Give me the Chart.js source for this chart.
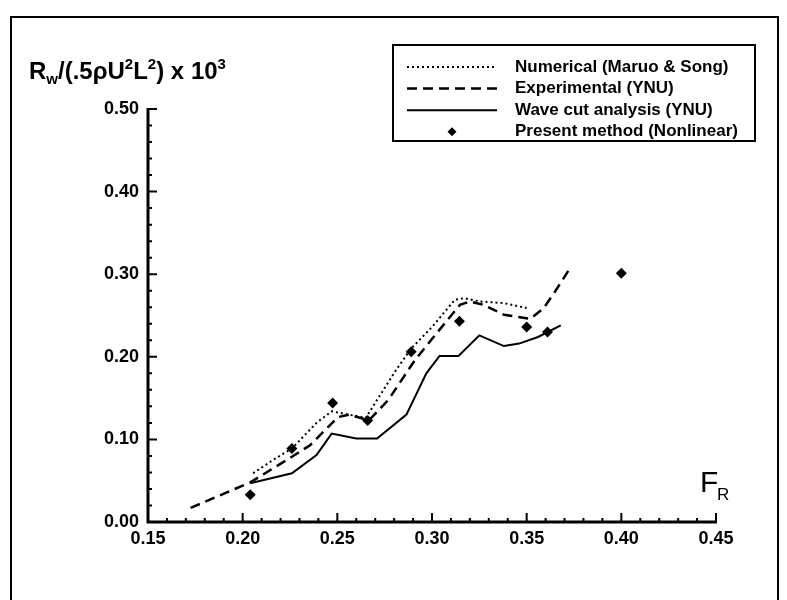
<!DOCTYPE html>
<html><head><meta charset="utf-8">
<script src="https://cdn.jsdelivr.net/npm/chart.js@4/dist/chart.umd.min.js"></script>
<style>html,body{margin:0;padding:0;background:#fff}#wrap{width:787px;height:600px;position:relative}</style>
</head><body><div id="wrap"><canvas id="c" width="787" height="600"></canvas></div>
<script>
// ---- data ----
const seriesLabels = ["Numerical (Maruo & Song)", "Experimental (YNU)", "Wave cut analysis (YNU)", "Present method (Nonlinear)"];
const numericalX = [0.2055,0.216,0.226,0.239,0.247,0.256,0.265,0.281,0.289,0.300,0.312,0.317,0.325,0.338,0.350];
const numericalY = [0.059,0.075,0.089,0.120,0.134,0.130,0.126,0.184,0.210,0.236,0.269,0.271,0.267,0.265,0.259];
const experimentalX = [0.1725,0.204,0.226,0.2356,0.2504,0.2563,0.2667,0.277,0.291,0.3037,0.3148,0.320,0.327,0.338,0.352,0.359,0.365,0.372];
const experimentalY = [0.017,0.048,0.079,0.093,0.127,0.130,0.123,0.148,0.196,0.232,0.263,0.267,0.263,0.251,0.246,0.259,0.279,0.304];
const waveCutX = [0.204,0.226,0.239,0.247,0.260,0.271,0.2865,0.297,0.304,0.314,0.325,0.338,0.346,0.356,0.368];
const waveCutY = [0.047,0.059,0.081,0.107,0.101,0.101,0.130,0.180,0.201,0.201,0.226,0.213,0.216,0.224,0.238];
const presentX = [0.204,0.226,0.2475,0.266,0.289,0.3145,0.350,0.361,0.400];
const presentY = [0.033,0.089,0.144,0.123,0.206,0.243,0.236,0.230,0.301];
const xTicks = [0.15,0.20,0.25,0.30,0.35,0.40,0.45];
const yTicks = [0.00,0.10,0.20,0.30,0.40,0.50];

const pts = (xs, ys) => xs.map((x, i) => ({x: x, y: ys[i]}));
const FONT = '"Liberation Sans", Arial, Helvetica, sans-serif';

const decor = {
  id: 'decor',
  afterDraw(chart) {
    const ctx = chart.ctx;
    const xs = chart.scales.x, ys = chart.scales.y;
    const L = xs.getPixelForValue(xTicks[0]), R = xs.getPixelForValue(xTicks[xTicks.length-1]);
    const B = ys.getPixelForValue(yTicks[0]), T = ys.getPixelForValue(yTicks[yTicks.length-1]);
    ctx.save();
    ctx.strokeStyle = '#000'; ctx.fillStyle = '#000';
    // outer frame
    ctx.lineWidth = 2;
    ctx.beginPath();
    ctx.moveTo(11, 600); ctx.lineTo(11, 17); ctx.lineTo(778, 17); ctx.lineTo(778, 600);
    ctx.stroke();
    // axes
    ctx.lineWidth = 3;
    ctx.beginPath();
    ctx.moveTo(L, T - 1); ctx.lineTo(L, B); ctx.lineTo(R + 1, B);
    ctx.stroke();
    ctx.lineWidth = 2;
    ctx.beginPath();
    for (let i = 0; i <= 30; i++) {
      const px = xs.getPixelForValue(0.15 + i * 0.01);
      const len = i % 5 === 0 ? 9 : 4;
      ctx.moveTo(px, B); ctx.lineTo(px, B - len);
    }
    for (let i = 0; i <= 25; i++) {
      const py = ys.getPixelForValue(i * 0.02);
      const len = i % 5 === 0 ? 9 : 4;
      ctx.moveTo(L, py); ctx.lineTo(L + len, py);
    }
    ctx.stroke();
    // title
    let x = 29, base = 79;
    const parts = [['R',0],['w',1],['/(.5ρU',0],['2',2],['L',0],['2',2],[') x 10',0],['3',2]];
    for (const [t, m] of parts) {
      ctx.font = (m ? 'bold 15px ' : 'bold 24px ') + FONT;
      const dy = m === 1 ? 5 : (m === 2 ? -10 : 0);
      ctx.textBaseline = 'alphabetic'; ctx.textAlign = 'left';
      ctx.fillText(t, x, base + dy);
      x += ctx.measureText(t).width;
    }
    // F_R
    ctx.font = '30px ' + FONT;
    ctx.fillText('F', 700, 492);
    ctx.font = '17px ' + FONT;
    ctx.fillText('R', 717, 500);
    // legend
    ctx.lineWidth = 2;
    ctx.strokeRect(393, 45, 362, 96);
    chart.data.datasets.forEach((ds, i) => {
      const y = 67 + i * 21.6;
      if (ds.showLine) {
        ctx.save();
        ctx.lineWidth = ds.borderWidth;
        ctx.setLineDash(ds.borderDash || []);
        ctx.beginPath(); ctx.moveTo(407, y); ctx.lineTo(497, y); ctx.stroke();
        ctx.restore();
      } else {
        ctx.beginPath();
        ctx.moveTo(452, y - 4.5); ctx.lineTo(456.5, y); ctx.lineTo(452, y + 4.5); ctx.lineTo(447.5, y);
        ctx.closePath(); ctx.fill();
      }
      ctx.font = 'bold 17px ' + FONT;
      ctx.textBaseline = 'middle';
      ctx.fillText(ds.label, 515, y);
    });
    ctx.restore();
  }
};

new Chart(document.getElementById('c'), {
  type: 'scatter',
  data: {
    datasets: [
      {label: seriesLabels[0], data: pts(numericalX, numericalY), showLine: true, borderColor: '#000', borderWidth: 2, borderDash: [2, 3], pointRadius: 0, tension: 0},
      {label: seriesLabels[1], data: pts(experimentalX, experimentalY), showLine: true, borderColor: '#000', borderWidth: 2.5, borderDash: [10, 6], pointRadius: 0, tension: 0},
      {label: seriesLabels[2], data: pts(waveCutX, waveCutY), showLine: true, borderColor: '#000', borderWidth: 2, pointRadius: 0, tension: 0},
      {label: seriesLabels[3], data: pts(presentX, presentY), showLine: false, pointStyle: 'rectRot', pointRadius: 5.5, backgroundColor: '#000', borderColor: '#000', borderWidth: 0}
    ]
  },
  options: {
    responsive: false, animation: false, devicePixelRatio: 1,
    layout: {padding: {left: 88, right: 71, top: 109, bottom: 48}},
    plugins: {legend: {display: false}, tooltip: {enabled: false}},
    scales: {
      x: {
        type: 'linear', min: 0.15, max: 0.45,
        afterFit: s => { s.height = 30; },
        afterBuildTicks: s => { s.ticks = xTicks.map(v => ({value: v})); },
        grid: {display: false, drawTicks: false}, border: {display: false},
        ticks: {padding: 6, color: '#000', font: {family: FONT, size: 18, weight: 'bold'}, maxRotation: 0, autoSkip: false, callback: v => v.toFixed(2)}
      },
      y: {
        type: 'linear', min: 0, max: 0.5,
        afterFit: s => { s.width = 60; },
        afterBuildTicks: s => { s.ticks = yTicks.map(v => ({value: v})); },
        grid: {display: false, drawTicks: false}, border: {display: false},
        ticks: {padding: 9, color: '#000', font: {family: FONT, size: 18, weight: 'bold'}, autoSkip: false, callback: v => v.toFixed(2)}
      }
    }
  },
  plugins: [decor]
});
</script></body></html>
